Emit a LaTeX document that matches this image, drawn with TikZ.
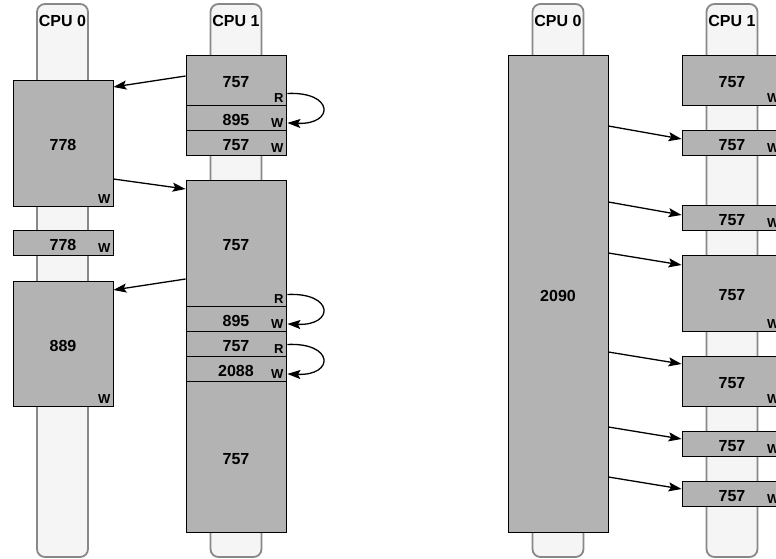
\documentclass[tikz,border=0pt]{standalone}
\usepackage{fontspec}
\setmainfont{Liberation Sans}
\usetikzlibrary{calc, arrows.meta, positioning}
\definecolor{blockgray}{RGB}{179,179,179}
\definecolor{barfill}{RGB}{245,245,245}
\definecolor{barline}{RGB}{136,136,136}

\begin{document}
\begin{tikzpicture}[x=1bp, y=-1bp, font=\bfseries\fontsize{16bp}{18bp}\selectfont,
	cpubar/.style={draw=barline, fill=barfill, line width=1.8bp, rounded corners=8bp, minimum width=51bp, minimum height=553bp, inner sep=0pt},
	block/.style={draw=black, fill=blockgray, line width=0.8bp, minimum width=100bp, inner sep=0pt, text height=16bp},
	tag/.style={font=\bfseries\fontsize{13bp}{14bp}\selectfont, inner sep=0pt, outer xsep=4bp, outer ysep=0pt, anchor=south east},
	msg/.style={-{Stealth[length=13bp, width=9bp, inset=2.5bp]}, line width=1.3bp}]
	\useasboundingbox (0,0) rectangle (776,559);
	% cpu bars
	\node[cpubar] (barL0) at (62.5, 280.5) {};
	\node[cpubar] (barL1) at (236, 280.5) {};
	\node[cpubar] (barR0) at (558, 280.5) {};
	\node[cpubar] (barR1) at (732, 280.5) {};
	\node (cpuL0) at (62.5, 21) {CPU 0};
	\node (cpuL1) at (236, 21) {CPU 1};
	\node (cpuR0) at (558, 21) {CPU 0};
	\node (cpuR1) at (732, 21) {CPU 1};
	% left: cpu 0 blocks
	\node[block, minimum height=126bp] (l0a) at (63, 143) {778};
	\node[block, minimum height=25bp] (l0b) at (63, 242.5) {778};
	\node[block, minimum height=125bp] (l0c) at (63, 343.5) {889};
	% left: cpu 1 blocks
	\node[block, minimum height=50bp] (l1a) at (236, 80) {757};
	\node[block, minimum height=25bp] (l1b) at (236, 117.5) {895};
	\node[block, minimum height=25bp] (l1c) at (236, 142.5) {757};
	\node[block, minimum height=126bp] (l1d) at (236, 243) {757};
	\node[block, minimum height=25bp] (l1e) at (236, 318.5) {895};
	\node[block, minimum height=25bp] (l1f) at (236, 343.5) {757};
	\node[block, minimum height=25bp] (l1g) at (236, 368.5) {2088};
	\node[block, minimum height=151bp] (l1h) at (236, 456.5) {757};
	% right: cpu 0 and cpu 1 blocks
	\node[block, minimum height=477bp] (rbig) at (558, 293.5) {2090};
	\node[block, minimum height=50bp] (r1a) at (732, 80) {757};
	\node[block, minimum height=25bp] (r1b) at (732, 142.5) {757};
	\node[block, minimum height=25bp] (r1c) at (732, 217.5) {757};
	\node[block, minimum height=76bp] (r1d) at (732, 293) {757};
	\node[block, minimum height=50bp] (r1e) at (732, 381) {757};
	\node[block, minimum height=25bp] (r1f) at (732, 443.5) {757};
	\node[block, minimum height=25bp] (r1g) at (732, 493.5) {757};
	% read / write tags
	\foreach \b in {l0a, l0b, l0c, l1b, l1c, l1e, l1g, r1a, r1b, r1c, r1d, r1e, r1f, r1g}
		\node[tag] (\b W) at ($(\b.south east)+(1,-3)$) {W};
	\foreach \b in {l1a, l1d, l1f}
		\node[tag] (\b R) at ($(\b.south east)+(1,-3)$) {R};
	% left arrows
	\draw[msg] (l1a.west |- 0,76) -- (l0a.east |- 0,87);
	\draw[msg] (l0a.east |- 0,179) -- (l1d.west |- 0,189);
	\draw[msg] (l1d.west |- 0,279) -- (l0c.east |- 0,290);
	\draw[msg] (l1aR.north east) .. controls +(47,-2) and +(47,2) .. (l1bW.east);
	\draw[msg] (l1dR.north east) .. controls +(47,-2) and +(47,2) .. (l1eW.east);
	\draw[msg] (l1fR.north east) .. controls +(47,-2) and +(47,2) .. (l1gW.east);
	% right arrows
	\draw[msg] (rbig.east |- 0,126) -- (r1b.west |- 0,139);
	\draw[msg] (rbig.east |- 0,202) -- (r1c.west |- 0,215);
	\draw[msg] (rbig.east |- 0,253) -- (r1d.west |- 0,265);
	\draw[msg] (rbig.east |- 0,352) -- (r1e.west |- 0,364);
	\draw[msg] (rbig.east |- 0,427) -- (r1f.west |- 0,439);
	\draw[msg] (rbig.east |- 0,477) -- (r1g.west |- 0,489);
\end{tikzpicture}
\end{document}
